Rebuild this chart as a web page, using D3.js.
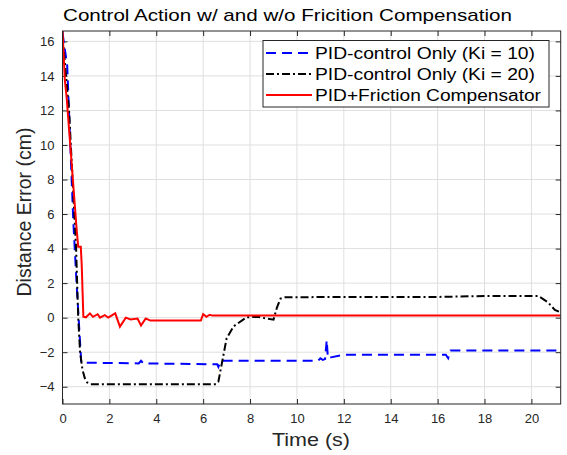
<!DOCTYPE html>
<html>
<head>
<meta charset="utf-8">
<script src="https://cdn.jsdelivr.net/npm/d3@7"></script>
<style>
  body { margin: 0; background: #fff; }
  text { font-family: "Liberation Sans", Arial, sans-serif; }
</style>
</head>
<body>
<div class="chart"></div>
<script>
// svg size
let svg_width = 567;
let svg_height = 455;

// plot box (MATLAB style axes)
let box_left = 62.5, box_right = 560.7, box_top = 31, box_bottom = 404;

// data
let x_ticks = [0, 2, 4, 6, 8, 10, 12, 14, 16, 18, 20];
let y_ticks = [-4, -2, 0, 2, 4, 6, 8, 10, 12, 14, 16];
let series_names = ["PID-control Only (Ki = 10)", "PID-control Only (Ki = 20)", "PID+Friction Compensator"];

let t_ki10 = [0, 0.2, 0.46, 0.6, 0.8, 3.25, 3.35, 3.45, 6.6, 6.65, 6.75, 10.9, 11.0, 11.1, 11.2, 11.27, 11.32, 11.45, 12.0, 16.35, 16.45, 16.55, 21.25];
let v_ki10 = [16.5, 14.6, 5.6, 2.0, -2.6, -2.65, -2.5, -2.65, -2.7, -2.85, -2.5, -2.5, -2.35, -2.45, -2.4, -1.3, -2.35, -2.3, -2.15, -2.15, -2.35, -1.9, -1.9];

let t_ki20 = [0, 0.1, 0.28, 0.58, 0.67, 0.75, 0.85, 0.95, 1.05, 1.2, 6.55, 6.65, 7.0, 7.3, 7.85, 8.3, 9.0, 9.15, 9.3, 9.5, 12, 16, 18, 20.3, 20.7, 21.0, 21.25];
let v_ki20 = [16.3, 14.8, 12.0, 4.0, 0, -2.0, -3.0, -3.5, -3.75, -3.85, -3.85, -3.7, -1.2, -0.5, 0.02, 0.05, -0.12, 0.6, 1.1, 1.18, 1.2, 1.2, 1.25, 1.25, 0.9, 0.45, 0.3];

let t_fric = [0, 0.1, 0.18, 0.6, 0.67, 0.78, 0.82, 0.89, 1.0, 1.17, 1.3, 1.5, 1.6, 1.8, 1.95, 2.25, 2.45, 2.7, 2.9, 3.2, 3.35, 3.55, 3.75, 5.9, 6.0, 6.14, 6.28, 6.4, 21.25];
let v_fric = [16.6, 13.75, 12.7, 5.17, 4.1, 4.1, 3.05, 0.06, 0.02, 0.25, 0.05, 0.2, 0.0, 0.15, 0.0, 0.25, -0.52, 0.0, -0.1, -0.05, -0.45, -0.05, -0.17, -0.17, 0.2, 0.05, 0.17, 0.12, 0.12];

// line styles per series
let styles = [
    { color: '#0000ff', dash: '10,6' },
    { color: '#000000', dash: '8,3,2,3' },
    { color: '#ff0000', dash: null }
];

// scales
let x_scale = d3.scaleLinear().domain([0, 21.25]).range([box_left, box_right]);
let y_scale = d3.scaleLinear().domain([-5, 16.6]).range([box_bottom, box_top]);

let svg = d3.select('.chart')
            .append('svg')
            .attr('width', svg_width)
            .attr('height', svg_height);

// grid
svg.append('g')
   .selectAll('line')
   .data(x_ticks)
   .enter()
   .append('line')
   .attr('x1', d => x_scale(d)).attr('x2', d => x_scale(d))
   .attr('y1', box_top).attr('y2', box_bottom)
   .attr('stroke', '#dfdfdf');

svg.append('g')
   .selectAll('line')
   .data(y_ticks)
   .enter()
   .append('line')
   .attr('x1', box_left).attr('x2', box_right)
   .attr('y1', d => y_scale(d)).attr('y2', d => y_scale(d))
   .attr('stroke', '#dfdfdf');

// axes, ticks inside on all four sides
let axis_color = '#262626';
function styleAxis(g) {
    g.select('.domain').remove();
    g.selectAll('.tick line').attr('stroke', axis_color);
    g.selectAll('.tick text').attr('fill', axis_color).attr('font-size', 13);
}

svg.append('g')
   .attr('transform', `translate(0,${box_bottom})`)
   .call(d3.axisBottom(x_scale).tickValues(x_ticks).tickSize(-5).tickPadding(10))
   .call(styleAxis);

svg.append('g')
   .attr('transform', `translate(0,${box_top})`)
   .call(d3.axisTop(x_scale).tickValues(x_ticks).tickSize(-5).tickFormat(''))
   .call(styleAxis);

svg.append('g')
   .attr('transform', `translate(${box_left},0)`)
   .call(d3.axisLeft(y_scale).tickValues(y_ticks).tickSize(-5).tickPadding(8))
   .call(styleAxis);

svg.append('g')
   .attr('transform', `translate(${box_right},0)`)
   .call(d3.axisRight(y_scale).tickValues(y_ticks).tickSize(-5).tickFormat(''))
   .call(styleAxis);

// clip so lines stay in the box
svg.append('clipPath').attr('id', 'clip')
   .append('rect')
   .attr('x', box_left).attr('y', box_top)
   .attr('width', box_right - box_left).attr('height', box_bottom - box_top);

let line = d3.line()
             .x(d => x_scale(d[0]))
             .y(d => y_scale(d[1]));

let all_series = [
    d3.zip(t_ki10, v_ki10),
    d3.zip(t_ki20, v_ki20),
    d3.zip(t_fric, v_fric)
];

svg.append('g')
   .attr('clip-path', 'url(#clip)')
   .selectAll('path')
   .data(all_series)
   .enter()
   .append('path')
   .attr('d', d => line(d))
   .attr('fill', 'none')
   .attr('stroke', (d, i) => styles[i].color)
   .attr('stroke-dasharray', (d, i) => styles[i].dash)
   .attr('stroke-width', 2);

// box outline
svg.append('rect')
   .attr('x', box_left).attr('y', box_top)
   .attr('width', box_right - box_left).attr('height', box_bottom - box_top)
   .attr('fill', 'none')
   .attr('stroke', axis_color)
   .attr('stroke-width', 1);

// legend
let legend = svg.append('g');
legend.append('rect')
      .attr('x', 263).attr('y', 40.5)
      .attr('width', 286).attr('height', 66.5)
      .attr('fill', '#fff')
      .attr('stroke', axis_color);

let rows = legend.selectAll('g.row')
                 .data(series_names)
                 .enter()
                 .append('g')
                 .attr('class', 'row')
                 .attr('transform', (d, i) => `translate(0,${53 + i * 21})`);

rows.append('line')
    .attr('x1', 266).attr('x2', 312)
    .attr('y1', 0).attr('y2', 0)
    .attr('stroke', (d, i) => styles[i].color)
    .attr('stroke-dasharray', (d, i) => styles[i].dash)
    .attr('stroke-width', 2);

rows.append('text')
    .text(d => d)
    .attr('x', 315)
    .attr('y', 6)
    .attr('font-size', 16)
    .attr('textLength', (d, i) => i == 2 ? 226 : 220)
    .attr('lengthAdjust', 'spacingAndGlyphs')
    .attr('fill', '#000');

// title and axis labels
svg.append('text')
   .text('Control Action w/ and w/o Fricition Compensation')
   .attr('x', 63).attr('y', 20.5)
   .attr('font-size', 17)
   .attr('textLength', 449)
   .attr('lengthAdjust', 'spacingAndGlyphs')
   .attr('fill', '#000');

svg.append('text')
   .text('Time (s)')
   .attr('x', 272).attr('y', 446)
   .attr('font-size', 18.5)
   .attr('textLength', 78)
   .attr('lengthAdjust', 'spacingAndGlyphs')
   .attr('fill', axis_color);

svg.append('text')
   .text('Distance Error (cm)')
   .attr('transform', 'translate(31,212) rotate(-90)')
   .attr('text-anchor', 'middle')
   .attr('font-size', 19.5)
   .attr('fill', axis_color);
</script>
</body>
</html>
